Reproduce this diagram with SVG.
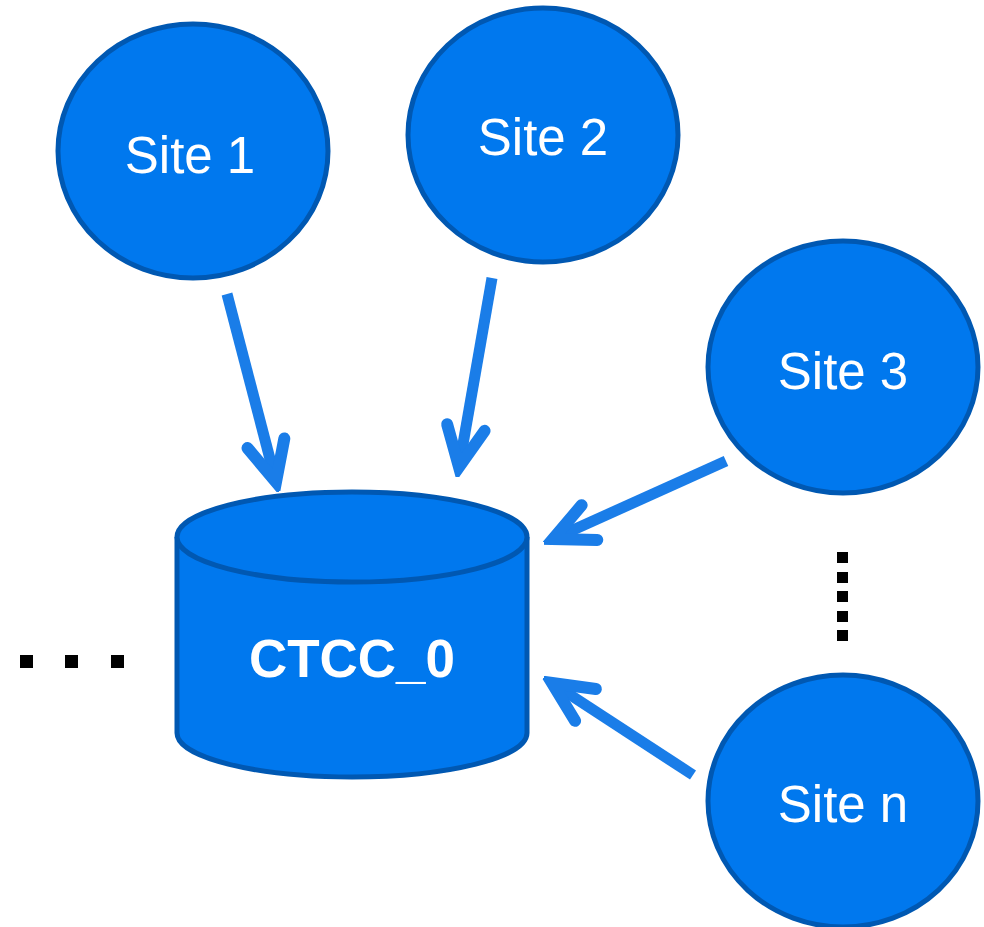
<svg xmlns="http://www.w3.org/2000/svg" width="984" height="927" viewBox="0 0 984 927">
<style>
.node{fill:#0078ee;stroke:#0058b2;stroke-width:5}
.lbl{font-family:"Liberation Sans",Arial,sans-serif;fill:#ffffff;font-size:51px;text-anchor:middle}
.bold{font-weight:bold;font-size:53px}
.conn{stroke:#1a7de8;stroke-width:11;fill:none}
.dot{fill:#000000}
</style>
<defs>
<marker id="ah" markerUnits="userSpaceOnUse" viewBox="-50 -30 60 60" refX="0" refY="0" markerWidth="60" markerHeight="60" orient="auto">
<path d="M -40 -19 L 0 0 L -40 19" fill="none" stroke="#1a7de8" stroke-width="12" stroke-linecap="round" stroke-linejoin="miter"/>
</marker>
</defs>
<rect width="984" height="927" fill="#ffffff"/>
<g id="connectors">
<line class="conn" x1="227" y1="294" x2="276" y2="482" marker-end="url(#ah)"/>
<line class="conn" x1="492" y1="278" x2="459" y2="467" marker-end="url(#ah)"/>
<line class="conn" x1="726" y1="461" x2="553" y2="539" marker-end="url(#ah)"/>
<line class="conn" x1="693" y1="775" x2="552" y2="683" marker-end="url(#ah)"/>
</g>
<g id="site1">
<ellipse class="node" cx="193" cy="151" rx="135" ry="127"/>
<text class="lbl" x="190" y="173">Site 1</text>
</g>
<g id="site2">
<ellipse class="node" cx="543" cy="135" rx="135" ry="127"/>
<text class="lbl" x="543" y="155">Site 2</text>
</g>
<g id="site3">
<ellipse class="node" cx="843" cy="367" rx="135" ry="126"/>
<text class="lbl" x="843" y="389">Site 3</text>
</g>
<g id="siten">
<ellipse class="node" cx="843" cy="801" rx="135" ry="126"/>
<text class="lbl" x="843" y="822">Site n</text>
</g>
<g id="ctcc0">
<path class="node" d="M 177 537 L 177 733 A 175 44 0 0 0 527 733 L 527 537"/>
<ellipse class="node" cx="352" cy="537" rx="175" ry="45"/>
<text class="lbl bold" x="352" y="677">CTCC_0</text>
</g>
<g id="dots">
<rect class="dot" x="20" y="655" width="13" height="13"/>
<rect class="dot" x="65" y="655" width="13" height="13"/>
<rect class="dot" x="111" y="655" width="13" height="13"/>
<rect class="dot" x="837" y="552" width="11" height="11"/>
<rect class="dot" x="837" y="572" width="11" height="11"/>
<rect class="dot" x="837" y="591" width="11" height="11"/>
<rect class="dot" x="837" y="611" width="11" height="11"/>
<rect class="dot" x="837" y="630" width="11" height="11"/>
</g>
</svg>
